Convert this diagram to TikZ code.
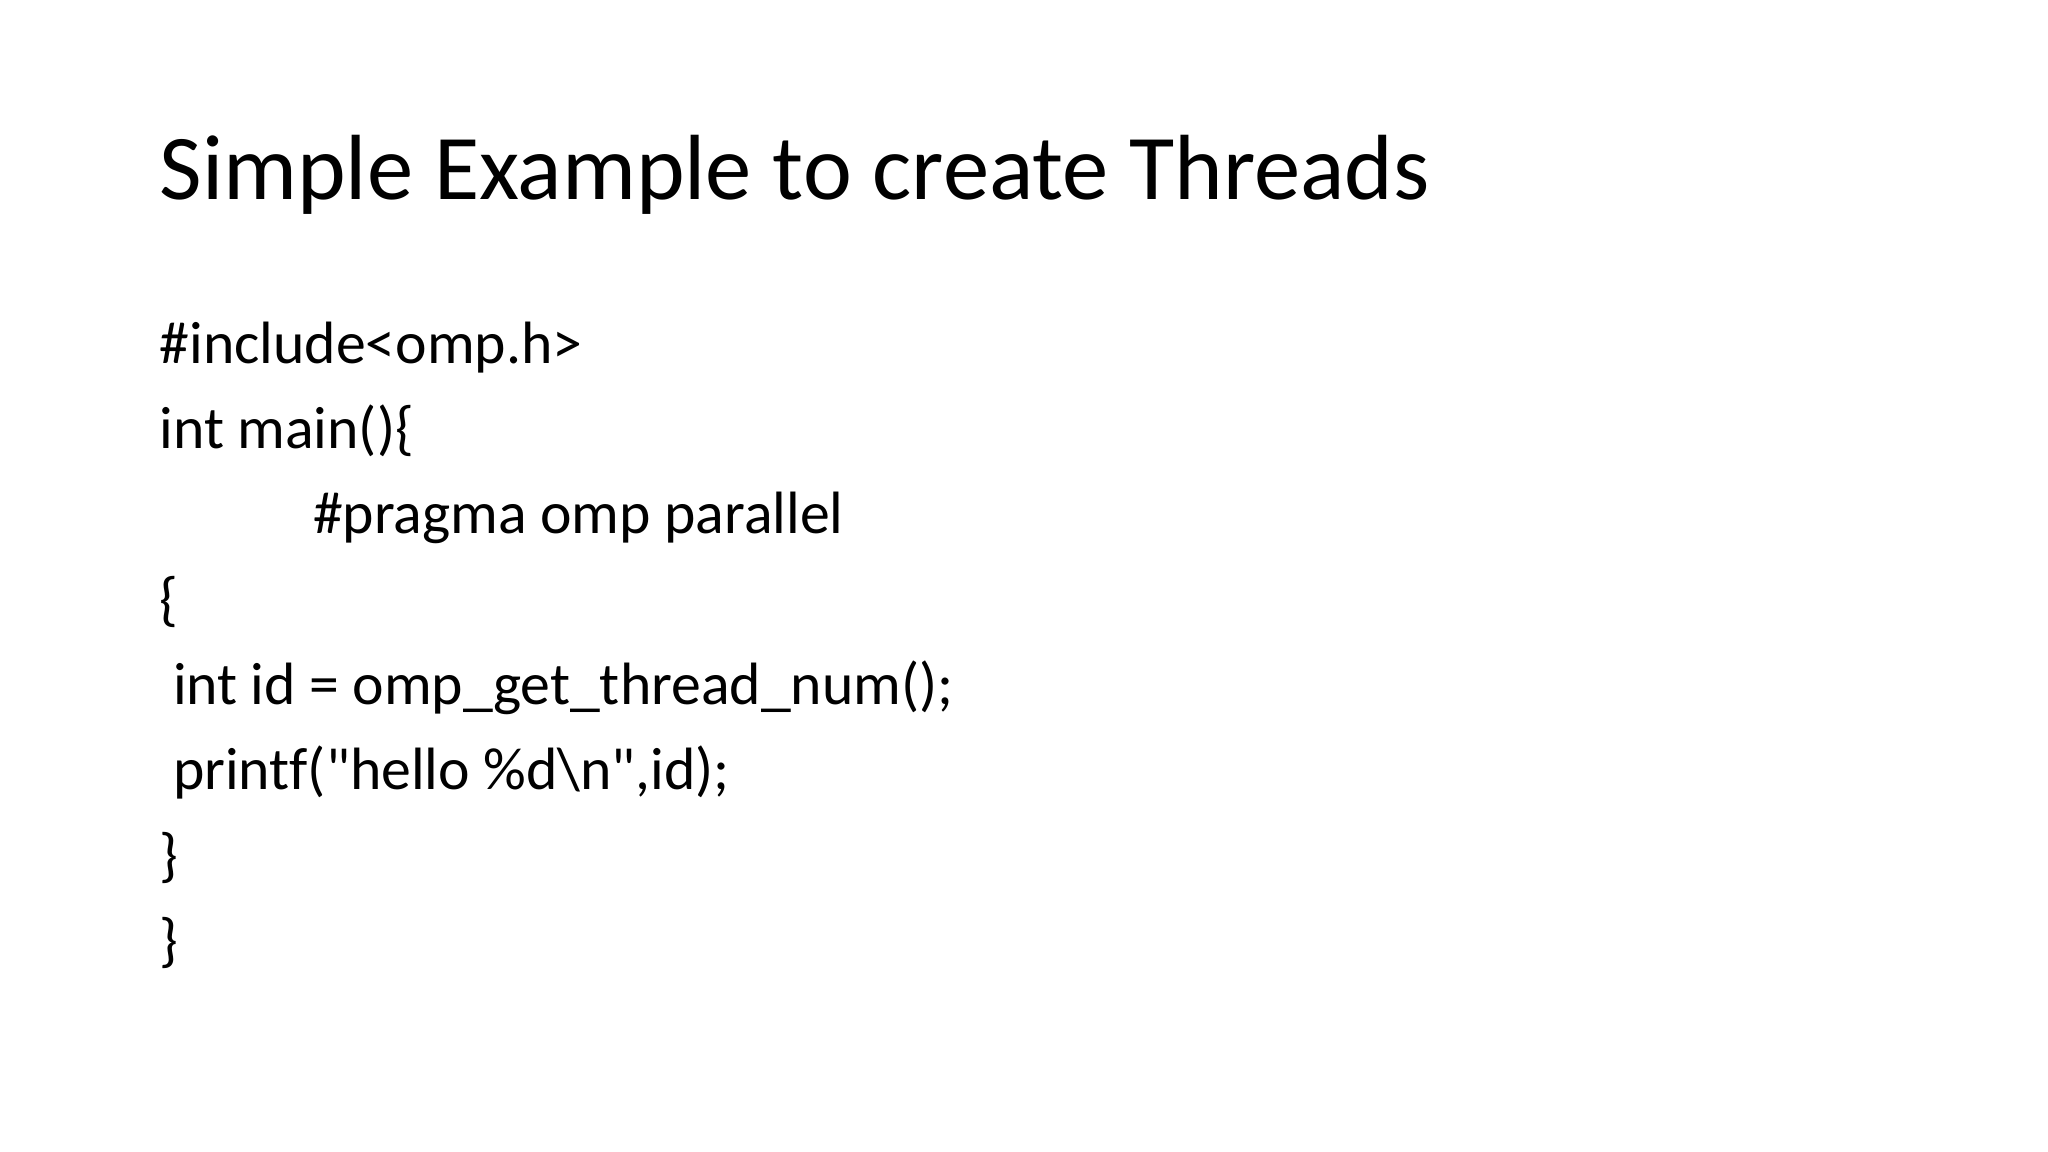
\documentclass[tikz,border=0pt]{standalone}
\usepackage{fontspec}
\setmainfont{Carlito}[Ligatures={TeXOff,NoCommon}]
\begin{document}
\begin{tikzpicture}[x=1pt,y=-1pt,
  titletext/.style={anchor=base west,inner sep=0pt,font=\fontsize{43.4}{52}\selectfont},
  codetext/.style={anchor=base west,inner sep=0pt,font=\fontsize{28}{34}\selectfont}]
\fill[white] (0,0) rectangle (960,540);
\useasboundingbox (0,0) rectangle (960,540);
\node[titletext] (title) at (74.6,93.5) {Simple Example to create Threads};
\node[codetext] (l1) at (74.6,170.2) {\#include<omp.h>};
\node[codetext] (l2) at (74.6,210.2) {int main()\{};
\node[codetext] (l3) at (146.6,250.2) {\#pragma omp parallel};
\node[codetext] (l4) at (74.6,290.2) {\{};
\node[codetext] (l5) at (80.9,330.2) {int id = omp\_get\_thread\_num();};
\node[codetext] (l6) at (80.9,370.2) {printf("hello \%d\textbackslash n",id);};
\node[codetext] (l7) at (74.6,410.2) {\}};
\node[codetext] (l8) at (74.6,450.2) {\}};
\end{tikzpicture}
\end{document}
